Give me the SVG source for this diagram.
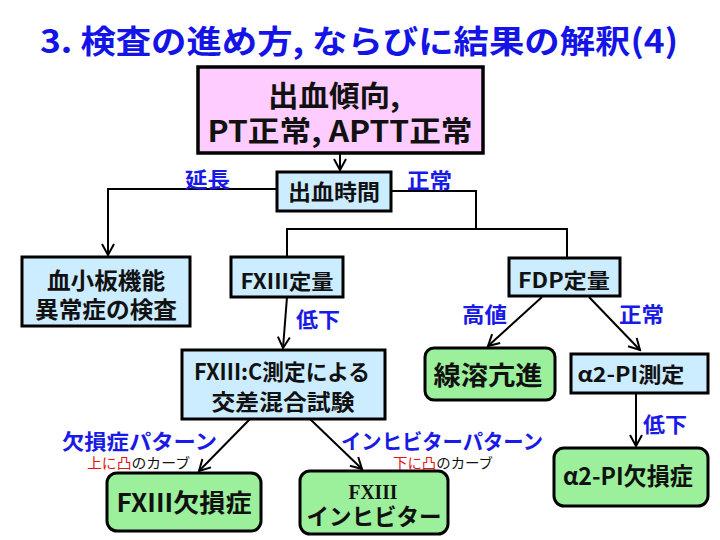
<svg xmlns="http://www.w3.org/2000/svg" width="720" height="540" viewBox="0 0 720 540">
<defs>
<style>
text{font-family:"Noto Sans CJK JP","Liberation Sans",sans-serif;font-weight:bold;}
.title{fill:#1414E6;font-size:32px;}
.lbl{fill:#1A1AE6;font-size:21px;}
.sm{fill:#111;font-size:14px;font-weight:normal;}
.red{fill:#E61414;}
.t{fill:#111;text-anchor:middle;}
.blue{fill:#CCECFF;stroke:#000;stroke-width:3;}
.pink{fill:#FFCCFF;stroke:#000;stroke-width:3.5;}
.green{fill:#9CF09C;stroke:#000;stroke-width:3;}
.c{fill:none;stroke:#000;stroke-width:2;}
.a{marker-end:url(#ah);}
</style>
<marker id="ah" viewBox="-13 -8 15 16" refX="0" refY="0" markerWidth="15" markerHeight="16" markerUnits="userSpaceOnUse" orient="auto">
<path d="M-11,-6 L0,0 L-11,6" fill="none" stroke="#000" stroke-width="2"/>
</marker>
</defs>
<rect width="720" height="540" fill="#fff"/>
<text class="title" x="40" y="53" textLength="638" lengthAdjust="spacingAndGlyphs">3. 検査の進め方, ならびに結果の解釈(4)</text>

<g id="connectors">
<path class="c a" d="M340,153 L340,170"/>
<path class="c a" d="M277,189 H108 V255"/>
<path class="c" d="M391,191 H476 V229"/>
<path class="c" d="M287,257 V229 H567 V258"/>
<path class="c a" d="M287,297 L283,348"/>
<path class="c a" d="M250,419 L199,471"/>
<path class="c a" d="M310,419 L362,469"/>
<path class="c a" d="M542,297 L488,346"/>
<path class="c a" d="M589,297 L640,350"/>
<path class="c a" d="M636,393 L636,446"/>
</g>

<g id="edge-labels">
<text class="lbl" x="185" y="187" textLength="45" lengthAdjust="spacingAndGlyphs">延長</text>
<text class="lbl" x="407" y="188" textLength="45" lengthAdjust="spacingAndGlyphs">正常</text>
<text class="lbl" x="296" y="327" textLength="44" lengthAdjust="spacingAndGlyphs">低下</text>
<text class="lbl" x="462" y="322" textLength="45" lengthAdjust="spacingAndGlyphs">高値</text>
<text class="lbl" x="619" y="322" textLength="45" lengthAdjust="spacingAndGlyphs">正常</text>
<text class="lbl" x="643" y="432" textLength="44" lengthAdjust="spacingAndGlyphs">低下</text>
<text class="lbl" x="62" y="449" textLength="155" lengthAdjust="spacingAndGlyphs">欠損症パターン</text>
<text class="lbl" x="341" y="449" textLength="202" lengthAdjust="spacingAndGlyphs">インヒビターパターン</text>
<text class="sm" x="87" y="468" textLength="103" lengthAdjust="spacingAndGlyphs"><tspan class="red">上に凸</tspan>のカーブ</text>
<text class="sm" x="393" y="468" textLength="100" lengthAdjust="spacingAndGlyphs"><tspan class="red">下に凸</tspan>のカーブ</text>
</g>

<g id="n-top">
<rect class="pink" x="198" y="67" width="285" height="86"/>
<text class="t" x="334" y="107" font-size="29" textLength="132" lengthAdjust="spacingAndGlyphs">出血傾向,</text>
<text class="t" x="340" y="142" font-size="29" textLength="265" lengthAdjust="spacingAndGlyphs">PT正常, APTT正常</text>
</g>

<g id="n-bleed">
<rect class="blue" x="277" y="172" width="114" height="39"/>
<text class="t" x="334" y="200" font-size="22" textLength="92" lengthAdjust="spacingAndGlyphs">出血時間</text>
</g>

<g id="n-platelet">
<rect class="blue" x="22" y="257" width="168" height="69"/>
<text class="t" x="106" y="289" font-size="23" textLength="118" lengthAdjust="spacingAndGlyphs">血小板機能</text>
<text class="t" x="106" y="318" font-size="23" textLength="142" lengthAdjust="spacingAndGlyphs">異常症の検査</text>
</g>

<g id="n-fxiii-q">
<rect class="blue" x="231" y="257" width="112" height="40"/>
<text class="t" x="287" y="289" font-size="21" textLength="93" lengthAdjust="spacingAndGlyphs">FXIII定量</text>
</g>

<g id="n-fdp">
<rect class="blue" x="509" y="258" width="111" height="38"/>
<text class="t" x="564" y="288" font-size="21" textLength="92" lengthAdjust="spacingAndGlyphs">FDP定量</text>
</g>

<g id="n-mix">
<rect class="blue" x="182" y="350" width="203" height="69"/>
<text class="t" x="282" y="380" font-size="22" textLength="176" lengthAdjust="spacingAndGlyphs">FXIII:C測定による</text>
<text class="t" x="283" y="410" font-size="22" textLength="143" lengthAdjust="spacingAndGlyphs">交差混合試験</text>
</g>

<g id="n-fib">
<rect class="green" x="425" y="348" width="130" height="52" rx="9"/>
<text class="t" x="488" y="385" font-size="26" textLength="109" lengthAdjust="spacingAndGlyphs">線溶亢進</text>
</g>

<g id="n-a2">
<rect class="blue" x="571" y="354" width="137" height="39"/>
<text class="t" x="631" y="382" font-size="21" textLength="107" lengthAdjust="spacingAndGlyphs">α2-PI測定</text>
</g>

<g id="n-def">
<rect class="green" x="107" y="473" width="154" height="58" rx="10"/>
<text class="t" x="184" y="512" font-size="25" textLength="135" lengthAdjust="spacingAndGlyphs">FXIII欠損症</text>
</g>

<g id="n-inh">
<rect class="green" x="300" y="471" width="148" height="63" rx="10"/>
<text class="t" x="373" y="499" font-size="22" textLength="49" lengthAdjust="spacingAndGlyphs" style="font-family:'Liberation Serif',serif;font-weight:bold">FXIII</text>
<text class="t" x="374" y="525" font-size="23" textLength="135" lengthAdjust="spacingAndGlyphs">インヒビター</text>
</g>

<g id="n-a2def">
<rect class="green" x="554" y="448" width="154" height="58" rx="10"/>
<text class="t" x="628" y="485" font-size="24" textLength="130" lengthAdjust="spacingAndGlyphs">α2-PI欠損症</text>
</g>
</svg>
